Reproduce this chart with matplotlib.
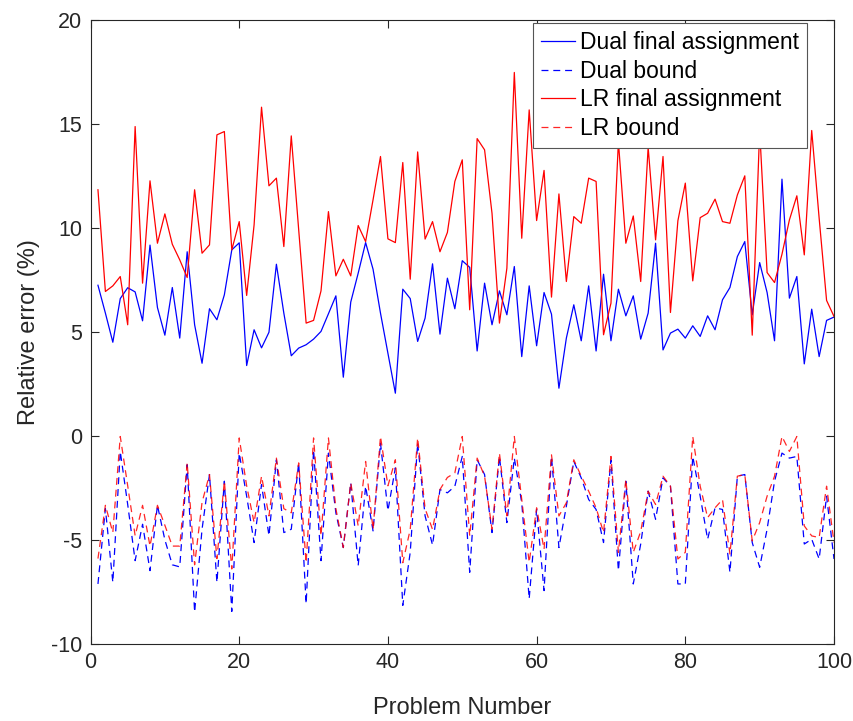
import numpy as np
import matplotlib
matplotlib.use('Agg')
import matplotlib.pyplot as plt

plt.rcParams['font.family'] = ['Liberation Sans', 'DejaVu Sans']
plt.rcParams['lines.scale_dashes'] = False
plt.rcParams['axes.unicode_minus'] = False

# problem index
problem = np.arange(1, 101)

dual_final = [7.24, 5.9, 4.5, 6.6, 7.12, 6.92, 5.53, 9.17, 6.17, 4.84,
              7.13, 4.7, 8.85, 5.34, 3.49, 6.11, 5.58, 6.78, 8.94, 9.28,
              3.38, 5.1, 4.23, 4.98, 8.25, 5.9, 3.85, 4.22, 4.38, 4.65,
              5.02, 5.87, 6.73, 2.82, 6.43, 7.82, 9.29, 8.01, 5.9, 3.97,
              2.05, 7.05, 6.6, 4.54, 5.66, 8.27, 4.89, 7.58, 6.11, 8.42,
              8.1, 4.08, 7.34, 5.34, 6.97, 5.82, 8.14, 3.81, 7.21, 4.33,
              6.89, 5.85, 2.29, 4.7, 6.3, 4.57, 7.21, 4.08, 7.77, 4.57,
              7.05, 5.77, 6.73, 4.65, 5.9, 9.26, 4.13, 4.94, 5.13, 4.7,
              5.29, 4.78, 5.77, 5.1, 6.54, 7.13, 8.62, 9.34, 5.82, 8.33,
              6.89, 4.57, 12.34, 6.62, 7.66, 3.46, 6.09, 3.81, 5.55, 5.71]

dual_bound = [-7.12, -3.5, -7.04, -0.75, -3.3, -6.0, -4.25, -6.48, -3.34, -5.0,
              -6.2, -6.3, -1.39, -8.47, -4.49, -1.86, -7.04, -2.18, -8.44, -0.83,
              -2.9, -5.13, -2.34, -4.8, -1.15, -4.65, -4.49, -1.3, -8.07, -0.67,
              -6.0, -0.83, -3.7, -5.37, -2.26, -6.24, -2.42, -4.57, -0.35, -3.6,
              -1.54, -8.15, -5.6, -0.35, -3.85, -5.25, -2.58, -2.74, -2.42, -0.99,
              -6.56, -1.15, -1.86, -4.65, -0.99, -4.17, -1.07, -3.22, -7.83, -3.54,
              -7.44, -0.99, -5.37, -3.38, -1.23, -2.02, -3.06, -3.54, -5.13, -1.15,
              -6.48, -2.18, -7.12, -5.2, -2.66, -4.01, -2.02, -2.42, -7.12, -7.12,
              -0.99, -2.9, -4.97, -3.46, -3.54, -6.56, -1.94, -1.86, -5.13, -6.32,
              -4.49, -2.18, -0.83, -1.07, -0.99, -5.2, -4.97, -5.92, -2.9, -5.92]

lr_final = [11.83, 6.94, 7.21, 7.66, 5.34, 14.87, 7.34, 12.26, 9.26, 10.67,
            9.21, 8.46, 7.61, 11.83, 8.78, 9.18, 14.47, 14.63, 8.94, 10.3,
            6.75, 10.14, 15.8, 12.02, 12.39, 9.1, 14.42, 9.9, 5.42, 5.55,
            6.97, 10.78, 7.69, 8.49, 7.69, 10.11, 9.34, 11.35, 13.43, 9.47,
            9.29, 13.14, 7.53, 13.65, 9.46, 10.3, 8.85, 9.78, 12.23, 13.27,
            6.06, 14.29, 13.75, 10.7, 5.42, 8.06, 17.47, 9.5, 15.67, 10.35,
            12.76, 6.67, 11.63, 7.42, 10.54, 10.22, 12.39, 12.23, 4.86, 6.38,
            14.15, 9.26, 10.57, 7.42, 13.88, 9.42, 13.43, 5.93, 10.34, 12.15,
            7.45, 10.49, 10.7, 11.38, 10.3, 10.22, 11.58, 12.5, 4.84, 14.7,
            7.85, 7.37, 8.73, 10.38, 11.54, 8.7, 14.68, 10.46, 6.51, 5.74]

lr_bound = [-5.9, -3.34, -4.65, -0.03, -2.4, -4.8, -3.34, -5.3, -3.34, -4.3,
            -5.3, -5.3, -1.3, -6.2, -3.2, -1.86, -5.9, -2.18, -6.4, -0.1,
            -2.4, -4.17, -1.94, -3.85, -1.07, -3.5, -3.7, -1.3, -6.1, -0.1,
            -4.8, -0.1, -3.5, -5.37, -2.26, -4.33, -1.23, -4.5, -0.03, -2.4,
            -1.15, -6.1, -4.5, -0.1, -3.5, -4.5, -2.58, -2.0, -1.78, -0.03,
            -4.81, -1.07, -1.94, -4.49, -0.83, -3.85, -0.03, -3.06, -6.08, -3.46,
            -5.45, -0.91, -3.85, -3.22, -1.15, -1.94, -2.66, -3.46, -4.65, -0.99,
            -5.6, -2.1, -5.6, -4.6, -2.66, -3.3, -1.94, -2.42, -5.92, -5.6,
            -0.03, -2.42, -3.93, -3.46, -3.06, -5.68, -1.94, -1.86, -5.05, -4.17,
            -2.9, -1.94, -0.03, -0.75, -0.03, -4.33, -4.81, -4.89, -2.42, -5.13]

fig = plt.figure(figsize=(8.54, 7.21), dpi=100)
ax = fig.add_axes([0.106, 0.107, 0.8706, 0.8655])

lw = 0.9
dash = (5, 3.5)
ax.plot(problem, dual_final, '-', color='b', lw=lw, label='Dual final assignment')
ax.plot(problem, dual_bound, '--', color='b', lw=lw, dashes=dash, label='Dual bound')
ax.plot(problem, lr_final, '-', color='r', lw=lw, label='LR final assignment')
ax.plot(problem, lr_bound, '--', color='r', lw=lw, dashes=dash, alpha=0.85, label='LR bound')

ax.set_xlim(0, 100)
ax.set_ylim(-10, 20)
ax.set_xticks(range(0, 101, 20))
ax.set_yticks(range(-10, 21, 5))

axcol = '#262626'
for s in ax.spines.values():
    s.set_color(axcol)
    s.set_linewidth(0.8)
ax.tick_params(direction='in', length=6, width=0.8, top=True, right=True,
               colors=axcol, labelsize=15.5, pad=6)

ax.set_xlabel('Problem Number', fontsize=17, color=axcol, labelpad=17)
ax.set_ylabel('Relative error (%)', fontsize=17, color=axcol, labelpad=8)

leg = ax.legend(loc='upper right', bbox_to_anchor=(0.9637, 0.9952), fontsize=16.5,
                fancybox=False, framealpha=1, edgecolor='#555555', handlelength=1.5,
                handletextpad=0.2, labelspacing=0.25, borderpad=0.35, borderaxespad=0)
leg.get_frame().set_linewidth(0.8)

plt.savefig('out.png', dpi=100)
